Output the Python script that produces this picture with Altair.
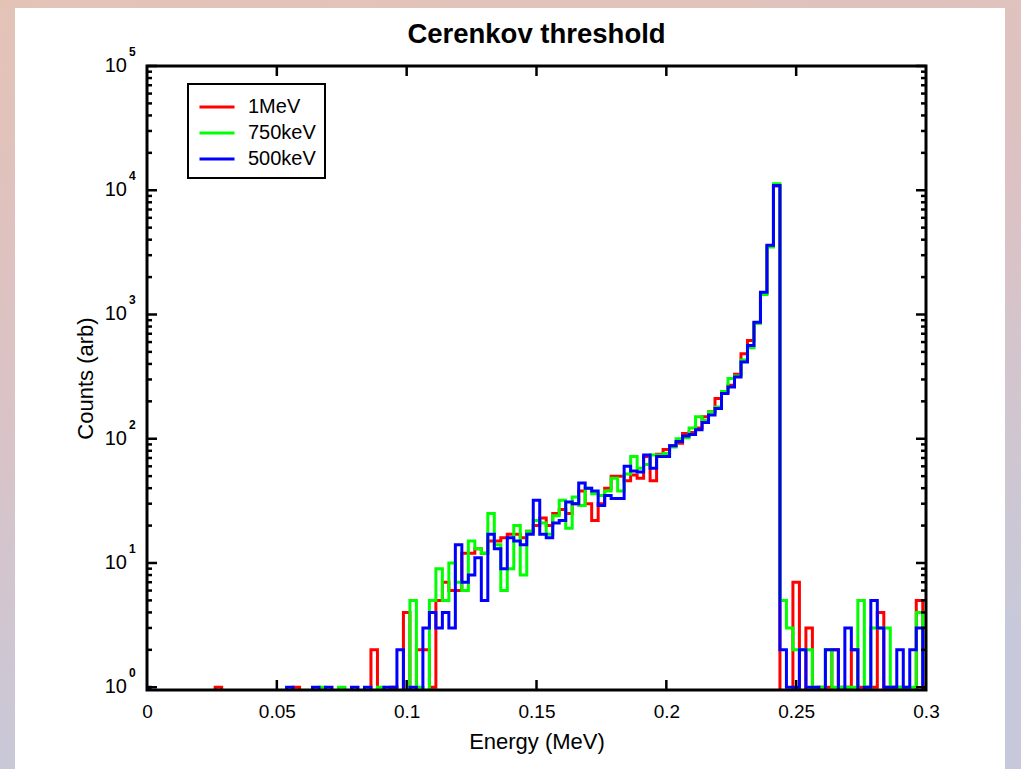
import altair as alt
import pandas as pd

# ---------------- data ----------------
BIN_WIDTH = 0.0025                      # histogram bin width (MeV), bins centred on k*BIN_WIDTH
energy = [round(BIN_WIDTH * k, 4) for k in range(121)]

counts_1mev = [
    0, 0, 0, 0, 0, 0, 0, 0, 0, 0,
    0, 1, 0, 0, 0, 0, 0, 0, 0, 0,
    0, 0, 0, 1, 0, 0, 0, 0, 0, 0,
    0, 0, 0, 0, 0, 2, 0, 0, 1, 0,
    4, 0, 2, 2, 1, 5, 7, 6, 6, 12,
    12, 13, 12, 15, 15, 16, 17, 17, 16, 18,
    20, 23, 20, 25, 27, 25, 30, 38, 30, 22,
    30, 40, 50, 50, 46, 51, 48, 72, 46, 75,
    82, 88, 92, 110, 112, 122, 150, 165, 211, 240,
    270, 330, 483, 619, 860, 1480, 3550, 10800, 0, 0,
    7, 0, 3, 0, 1, 1, 2, 1, 1, 2,
    1, 1, 1, 4, 1, 1, 1, 0, 0, 5,
    1,
]
counts_750kev = [
    0, 0, 0, 0, 0, 0, 0, 0, 0, 0,
    0, 0, 0, 0, 0, 0, 0, 0, 0, 0,
    0, 0, 0, 0, 0, 0, 0, 1, 0, 0,
    1, 0, 0, 0, 0, 0, 1, 0, 0, 0,
    0, 5, 1, 0, 5, 9, 5, 10, 7, 6,
    15, 13, 12, 25, 14, 6, 9, 20, 8, 18,
    22, 21, 17, 24, 32, 19, 34, 29, 40, 36,
    35, 38, 48, 38, 52, 72, 58, 62, 74, 74,
    76, 86, 100, 102, 122, 150, 140, 165, 180, 240,
    305, 320, 430, 540, 850, 1450, 3500, 11300, 5, 3,
    2, 2, 2, 1, 1, 2, 1, 1, 1, 1,
    5, 1, 3, 3, 3, 1, 1, 1, 1, 4,
    1,
]
counts_500kev = [
    1, 0, 0, 0, 0, 0, 0, 0, 0, 0,
    0, 0, 0, 0, 0, 0, 0, 0, 0, 0,
    0, 0, 1, 0, 0, 0, 1, 0, 1, 0,
    0, 0, 1, 0, 1, 0, 0, 1, 1, 2,
    0, 1, 0, 3, 4, 3, 4, 3, 14, 7,
    8, 11, 5, 17, 13, 9, 16, 15, 14, 17,
    32, 17, 16, 21, 22, 31, 30, 44, 40, 38,
    29, 35, 33, 33, 60, 55, 54, 74, 58, 72,
    72, 88, 95, 105, 108, 118, 135, 155, 175, 231,
    261, 314, 415, 563, 867, 1508, 3610, 10920, 2, 1,
    1, 2, 1, 1, 0, 2, 2, 0, 3, 2,
    0, 1, 5, 3, 1, 1, 2, 1, 2, 3,
    0,
]

series_names = ["1MeV", "750keV", "500keV"]
series_colors = ["#ff0000", "#00ff00", "#0000ff"]

x_label_values = [0, 0.05, 0.1, 0.15, 0.2, 0.25, 0.3]
x_tick_values = [0.05, 0.1, 0.15, 0.2, 0.25]
y_decades = [1, 10, 100, 1000, 10000, 100000]
y_exponents = ["0", "1", "2", "3", "4", "5"]
y_minor = [m * d for d in [1, 10, 100, 1000, 10000] for m in range(2, 10)]

# ---------------- layout / style ----------------
W, H = 779, 624
PAD = {"left": 147, "top": 66, "right": 95, "bottom": 79}
FONT = "Liberation Sans"
FLOOR = 0.1   # empty bins are drawn below the visible range and clipped away

rows = []
for name, vals in zip(series_names, [counts_1mev, counts_750kev, counts_500kev]):
    for e, c in zip(energy, vals):
        rows.append({"xv": e, "yv": c if c > 0 else FLOOR, "series": name})
lines_df = pd.DataFrame(rows)

x_scale = alt.Scale(domain=[0, 0.3], nice=False, zero=False)
y_scale = alt.Scale(type="log", domain=[0.95, 100000], nice=False)

x_axis = alt.Axis(values=x_label_values, format="~g", labelFontSize=19, labelFont=FONT,
                  labelColor="black", ticks=False, domain=False, grid=False,
                  labelFlush=False, labelPadding=12, title="Energy (MeV)",
                  titleFontSize=22, titleFont=FONT, titleFontWeight="normal",
                  titleColor="black", titlePadding=10, zindex=2)
y_axis = alt.Axis(labels=False, ticks=False, domain=False, grid=False,
                  title="Counts (arb)", titleFontSize=22, titleFont=FONT,
                  titleFontWeight="normal", titleColor="black", titlePadding=50, zindex=2)

X = alt.X("xv:Q", scale=x_scale, axis=x_axis)
Y = alt.Y("yv:Q", scale=y_scale, axis=y_axis)

color = alt.Color(
    "series:N",
    scale=alt.Scale(domain=series_names, range=series_colors),
    legend=alt.Legend(title=None, orient="none", legendX=41, legendY=18,
                      direction="vertical", symbolType="M-1.4,0H1.4", symbolSize=625,
                      symbolStrokeWidth=3, labelFontSize=20, labelFont=FONT,
                      labelColor="black", strokeColor="black", fillColor="white",
                      padding=9, rowPadding=2, labelOffset=17, symbolOffset=6, zindex=3),
)

one = pd.DataFrame({"a": [0]})
gradient = alt.LinearGradient(
    gradient="linear",
    stops=[alt.GradientStop(color="#e4c3b7", offset=0),
           alt.GradientStop(color="#dcc2c4", offset=0.45),
           alt.GradientStop(color="#c7c9da", offset=1)],
    x1=0, x2=0.25, y1=0, y2=1,
)
bg = alt.Chart(one).mark_rect(fill=gradient).encode(
    x=alt.value(-PAD["left"]), x2=alt.value(W + PAD["right"]),
    y=alt.value(-PAD["top"]), y2=alt.value(H + PAD["bottom"]))
panel = alt.Chart(one).mark_rect(fill="white").encode(
    x=alt.value(-132), x2=alt.value(858), y=alt.value(-58), y2=alt.value(H + PAD["bottom"]))

line_layers = [
    alt.Chart(lines_df).transform_filter(alt.datum.series == name)
    .mark_line(interpolate="step", strokeWidth=3, clip=True)
    .encode(x=X, y=Y, color=color)
    for name in series_names
]

frame = alt.Chart(one).mark_rect(fill="transparent", stroke="black", strokeWidth=3).encode(
    x=alt.value(0), x2=alt.value(W), y=alt.value(0), y2=alt.value(H))

ymaj_df = pd.DataFrame({"yv": y_decades, "lab": ["10"] * len(y_decades), "exp": y_exponents})
ymin_df = pd.DataFrame({"yv": y_minor})
xt_df = pd.DataFrame({"xv": x_tick_values})

tick_style = dict(color="black", strokeWidth=2.5)
ticks = [
    alt.Chart(ymaj_df).mark_rule(**tick_style).encode(y=Y, x=alt.value(0), x2=alt.value(10)),
    alt.Chart(ymaj_df).mark_rule(**tick_style).encode(y=Y, x=alt.value(W), x2=alt.value(W - 10)),
    alt.Chart(ymin_df).mark_rule(**tick_style).encode(y=Y, x=alt.value(0), x2=alt.value(5)),
    alt.Chart(ymin_df).mark_rule(**tick_style).encode(y=Y, x=alt.value(W), x2=alt.value(W - 5)),
    alt.Chart(xt_df).mark_rule(**tick_style).encode(x=X, y=alt.value(H), y2=alt.value(H - 10)),
    alt.Chart(xt_df).mark_rule(**tick_style).encode(x=X, y=alt.value(0), y2=alt.value(10)),
]

ylab = alt.Chart(ymaj_df).mark_text(align="right", baseline="middle", fontSize=20,
                                    font=FONT, color="black").encode(
    y=Y, x=alt.value(-20), text="lab:N")
yexp = alt.Chart(ymaj_df).mark_text(align="left", baseline="middle", fontSize=12,
                                    fontWeight="bold", font=FONT, color="black",
                                    dy=-14).encode(
    y=Y, x=alt.value(-18), text="exp:N")

chart = alt.layer(bg, panel, *line_layers, frame, *ticks, ylab, yexp).properties(
    width=W, height=H,
    title=alt.TitleParams("Cerenkov threshold", fontSize=27.5, fontWeight="bold", font=FONT,
                          color="black", anchor="middle", baseline="alphabetic", offset=-70),
    autosize=alt.AutoSizeParams(type="none"),
    padding=PAD,
).configure_view(strokeWidth=0).configure_legend(strokeWidth=2)

chart.save("out.html", embed_options={"renderer": "svg", "actions": False})
